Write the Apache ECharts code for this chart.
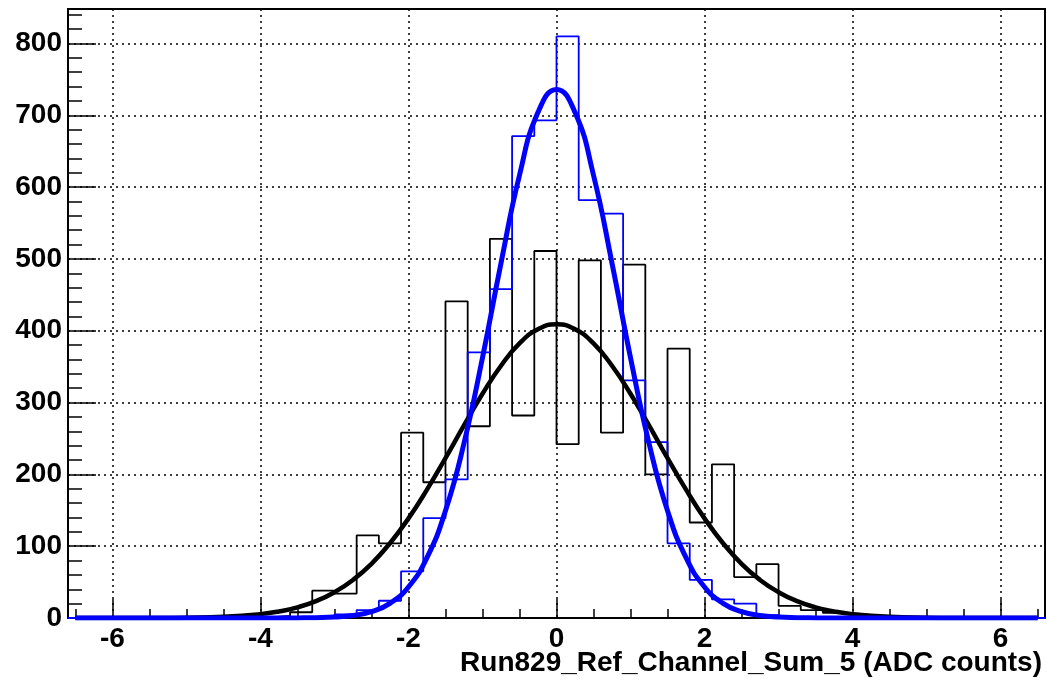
<!DOCTYPE html>
<html><head><meta charset="utf-8">
<script src="https://cdn.jsdelivr.net/npm/echarts@6/dist/echarts.min.js"></script>
<style>html,body{margin:0;padding:0;background:#fff}#c{width:1047px;height:681px}</style>
</head><body><div id="c"></div>
<script>
// ---- data ----
const binWidth = 0.3;
const blackBinStart = -4.2;
const blackCounts = [1,3,8,38,34,115,104,258,189,441,267,528,282,511,242,498,258,492,200,375,133,214,57,75,17,11,7,5];
const blueBinStart = -3.6;
const blueCounts = [1,2,5,11,24,65,139,193,370,458,671,693,810,582,563,331,245,104,53,26,20,4,1];

const fitX = [-6.5,-6,-5.5,-5,-4.5,-4,-3.75,-3.5,-3.25,-3,-2.75,-2.5,-2.25,-2,-1.75,-1.5,-1.25,-1,-0.75,-0.5,-0.25,0,
              0.25,0.5,0.75,1,1.25,1.5,1.75,2,2.25,2.5,2.75,3,3.25,3.5,3.75,4,4.5,5,5.5,6,6.5];
const blackFit = [0,0.02,0.11,0.47,1.7,5.4,9.1,14.9,23.5,35.9,53.0,75.5,104.1,138.7,178.7,222.6,268.1,312.2,351.3,382.3,402.1,409,
                  402.1,382.3,351.3,312.2,268.1,222.6,178.7,138.7,104.1,75.5,53.0,35.9,23.5,14.9,9.1,5.4,1.7,0.47,0.11,0.02,0];
const blueFit = [0,0,0,0,0,0.01,0.04,0.13,0.41,1.25,3.5,8.8,20.4,43.2,84.0,149.4,243.3,362.3,494.1,616.5,704.1,736,
                 704.1,616.5,494.1,362.3,243.3,149.4,84.0,43.2,20.4,8.8,3.5,1.25,0.41,0.13,0.04,0.01,0,0,0,0,0];

const xTickValues = [-6,-4,-2,0,2,4,6];
const yTickValues = [0,100,200,300,400,500,600,700,800];
const xTitle = 'Run829_Ref_Channel_Sum_5 (ADC counts)';

// ---- axis ranges ----
const xMin = -6.6, xMax = 6.6, yMin = 0, yMax = 848;

const xMinorTicks = [];
for (let v = -6.5; v <= 6.5001; v += 0.5) xMinorTicks.push(Math.round(v * 10) / 10);
const yMinorTicks = [];
for (let v = 20; v <= 840; v += 20) yMinorTicks.push(v);

function stepData(start, counts) {
  const pts = [[xMin, 0], [start, 0]];
  counts.forEach((c, i) => {
    const lo = +(start + i * binWidth).toFixed(4);
    const hi = +(lo + binWidth).toFixed(4);
    pts.push([lo, c], [hi, c]);
  });
  pts.push([+(start + counts.length * binWidth).toFixed(4), 0], [xMax, 0]);
  return pts;
}

const FONT = 'Liberation Sans, Arial, Helvetica, sans-serif';
const labelStyle = { color: '#000', fontSize: 28, fontWeight: 'bold', fontFamily: FONT };
const dotted = { color: '#000', width: 1.5, type: [2, 4] };

const chart = echarts.init(document.getElementById('c'), null, { renderer: 'canvas' });
chart.setOption({
  animation: false,
  backgroundColor: '#fff',
  grid: { left: 68, right: 2, top: 9, bottom: 63, show: true, borderColor: '#000', borderWidth: 2,
          backgroundColor: 'transparent', containLabel: false, outerBoundsMode: 'none' },
  xAxis: [{
    type: 'value', min: xMin, max: xMax, position: 'bottom',
    axisLine: { show: true, onZero: false, lineStyle: { color: '#000', width: 2 } },
    axisTick: { show: true, inside: true, length: 19, lineStyle: { color: '#000', width: 1.5 }, customValues: xTickValues },
    axisLabel: Object.assign({ margin: 7, customValues: xTickValues }, labelStyle),
    splitLine: { show: true, lineStyle: dotted }
  }, {
    type: 'value', min: xMin, max: xMax, position: 'bottom',
    axisLine: { show: false, onZero: false },
    axisTick: { show: true, inside: true, length: 9, lineStyle: { color: '#000', width: 1.5 }, customValues: xMinorTicks },
    axisLabel: { show: false },
    splitLine: { show: false }
  }],
  yAxis: [{
    type: 'value', min: yMin, max: yMax, position: 'left',
    axisLine: { show: true, onZero: false, lineStyle: { color: '#000', width: 2 } },
    axisTick: { show: true, inside: true, length: 28, lineStyle: { color: '#000', width: 1.5 }, customValues: yTickValues },
    axisLabel: Object.assign({ margin: 6, customValues: yTickValues }, labelStyle),
    splitLine: { show: true, lineStyle: dotted }
  }, {
    type: 'value', min: yMin, max: yMax, position: 'left',
    axisLine: { show: false, onZero: false },
    axisTick: { show: true, inside: true, length: 14, lineStyle: { color: '#000', width: 1.5 }, customValues: yMinorTicks },
    axisLabel: { show: false },
    splitLine: { show: false }
  }],
  series: [
    { name: 'hBlack', type: 'line', data: stepData(blackBinStart, blackCounts), showSymbol: false, symbol: 'none',
      lineStyle: { color: '#000', width: 1.8 }, z: 2 },
    { name: 'hBlue', type: 'line', data: stepData(blueBinStart, blueCounts), showSymbol: false, symbol: 'none',
      lineStyle: { color: '#0000ff', width: 1.8 }, z: 3 },
    { name: 'fitBlack', type: 'line', data: fitX.map((x, i) => [x, blackFit[i]]), showSymbol: false, symbol: 'none',
      smooth: 0.5, lineStyle: { color: '#000', width: 4.5 }, z: 4 },
    { name: 'fitBlue', type: 'line', data: fitX.map((x, i) => [x, blueFit[i]]), showSymbol: false, symbol: 'none',
      smooth: 0.5, lineStyle: { color: '#0000ff', width: 5 }, z: 5 }
  ],
  graphic: [{
    type: 'text', right: 5, top: 649,
    style: { text: xTitle, fill: '#000', font: 'bold 28px ' + FONT }
  }]
});
</script>
</body></html>
